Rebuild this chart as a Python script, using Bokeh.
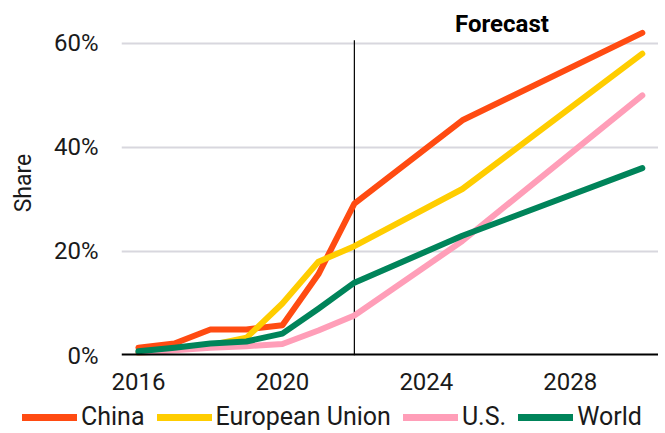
from bokeh.plotting import figure
from bokeh.layouts import column
from bokeh.models import FixedTicker, PrintfTickFormatter, Span, Legend, LegendItem, Range1d, Label
from bokeh.embed import file_html
from bokeh.resources import INLINE

years = [2016, 2017, 2018, 2019, 2020, 2021, 2022, 2025, 2030]
china = [1.5, 2.3, 5.0, 5.0, 5.8, 15.6, 29.2, 45.2, 62.0]
eu = [0.5, 1.2, 2.0, 3.4, 10.0, 18.0, 21.0, 32.0, 58.0]
us = [0.5, 1.0, 1.5, 1.8, 2.2, 4.8, 7.7, 22.0, 50.0]
world = [0.8, 1.5, 2.3, 2.7, 4.2, 9.0, 14.0, 23.0, 36.0]
series_names = ["China", "European Union", "U.S.", "World"]
colors = ["#FF4B12", "#FFCD00", "#FF9EB8", "#00845A"]
x_ticks = [2016, 2020, 2024, 2028]
y_ticks = [0, 20, 40, 60]
forecast_start = 2022

FONT = "Roboto"
FS = "24px"

p = figure(frame_width=537, frame_height=345, output_backend="svg", toolbar_location=None,
           x_range=Range1d(2015.53, 2030.45), y_range=Range1d(0, 66.3),
           min_border_left=121, min_border_right=0, min_border_top=10, min_border_bottom=46)
p.outline_line_color = None
p.background_fill_color = "white"

p.xgrid.grid_line_color = None
p.ygrid.grid_line_color = "#D8D7DE"
p.ygrid.grid_line_width = 2
p.ygrid.ticker = FixedTicker(ticks=y_ticks[1:])

p.xaxis.ticker = FixedTicker(ticks=x_ticks)
p.xaxis.axis_line_color = None
p.xaxis.major_tick_line_color = None
p.xaxis.major_tick_out = 0
p.xaxis.minor_tick_line_color = None
p.xaxis.major_label_text_font = FONT
p.xaxis.major_label_text_font_size = FS
p.xaxis.major_label_text_color = "#1a1a1a"
p.xaxis.major_label_standoff = 17

p.yaxis.ticker = FixedTicker(ticks=y_ticks)
p.yaxis.formatter = PrintfTickFormatter(format="%d%%")
p.yaxis.axis_line_color = None
p.yaxis.major_tick_line_color = None
p.yaxis.major_tick_out = 0
p.yaxis.minor_tick_line_color = None
p.yaxis.major_label_text_font = FONT
p.yaxis.major_label_text_font_size = FS
p.yaxis.major_label_text_color = "#1a1a1a"
p.yaxis.major_label_standoff = 23
p.yaxis.axis_label = "Share"
p.yaxis.axis_label_text_font = FONT
p.yaxis.axis_label_text_font_size = "23px"
p.yaxis.axis_label_text_font_style = "normal"
p.yaxis.axis_label_text_color = "#1a1a1a"
p.yaxis.axis_label_standoff = 14

# forecast divider
p.segment(x0=[forecast_start], y0=[0], x1=[forecast_start], y1=[60.6], line_color="black", line_width=1.2)

all_series = [china, eu, us, world]
for name, vals, c in zip(series_names, all_series, colors):
    p.line(years, vals, line_color=c, line_width=6, line_cap="round", line_join="round")

p.add_layout(Span(location=0, dimension="width", line_color="black", line_width=4))

p.add_layout(Label(x=2026.1, y=63.8, text="Forecast", text_font=FONT, text_font_size=FS,
                   text_font_style="bold", text_align="center", text_baseline="middle", text_color="black"))

# legend strip (separate figure so it can sit under the axis labels)
lg = figure(width=658, height=30, output_backend="svg", toolbar_location=None,
            x_range=Range1d(0, 1), y_range=Range1d(0, 1),
            x_axis_location=None, y_axis_location=None,
            min_border_left=0, min_border_right=0, min_border_top=0, min_border_bottom=0)
lg.outline_line_color = None
lg.grid.visible = False
leg_x = 22
try:
    p.frame_align = False
    lg.frame_align = False
except Exception:
    leg_x = 0
items = []
for name, vals, c in zip(series_names, all_series, colors):
    r = lg.line(years, vals, line_color=c, line_width=7, line_cap="round", line_join="round")
    items.append(LegendItem(label=name, renderers=[r]))

legend = Legend(items=items, orientation="horizontal", location=(leg_x, 0),
                label_text_font=FONT, label_text_font_size="25px", label_text_color="#1a1a1a",
                glyph_width=55, glyph_height=24, label_standoff=4, spacing=12, padding=0, margin=0,
                border_line_color=None, background_fill_alpha=0)
lg.add_layout(legend, "center")

layout = column(p, lg, spacing=0)
open("out.html", "w").write(file_html(layout, INLINE))
